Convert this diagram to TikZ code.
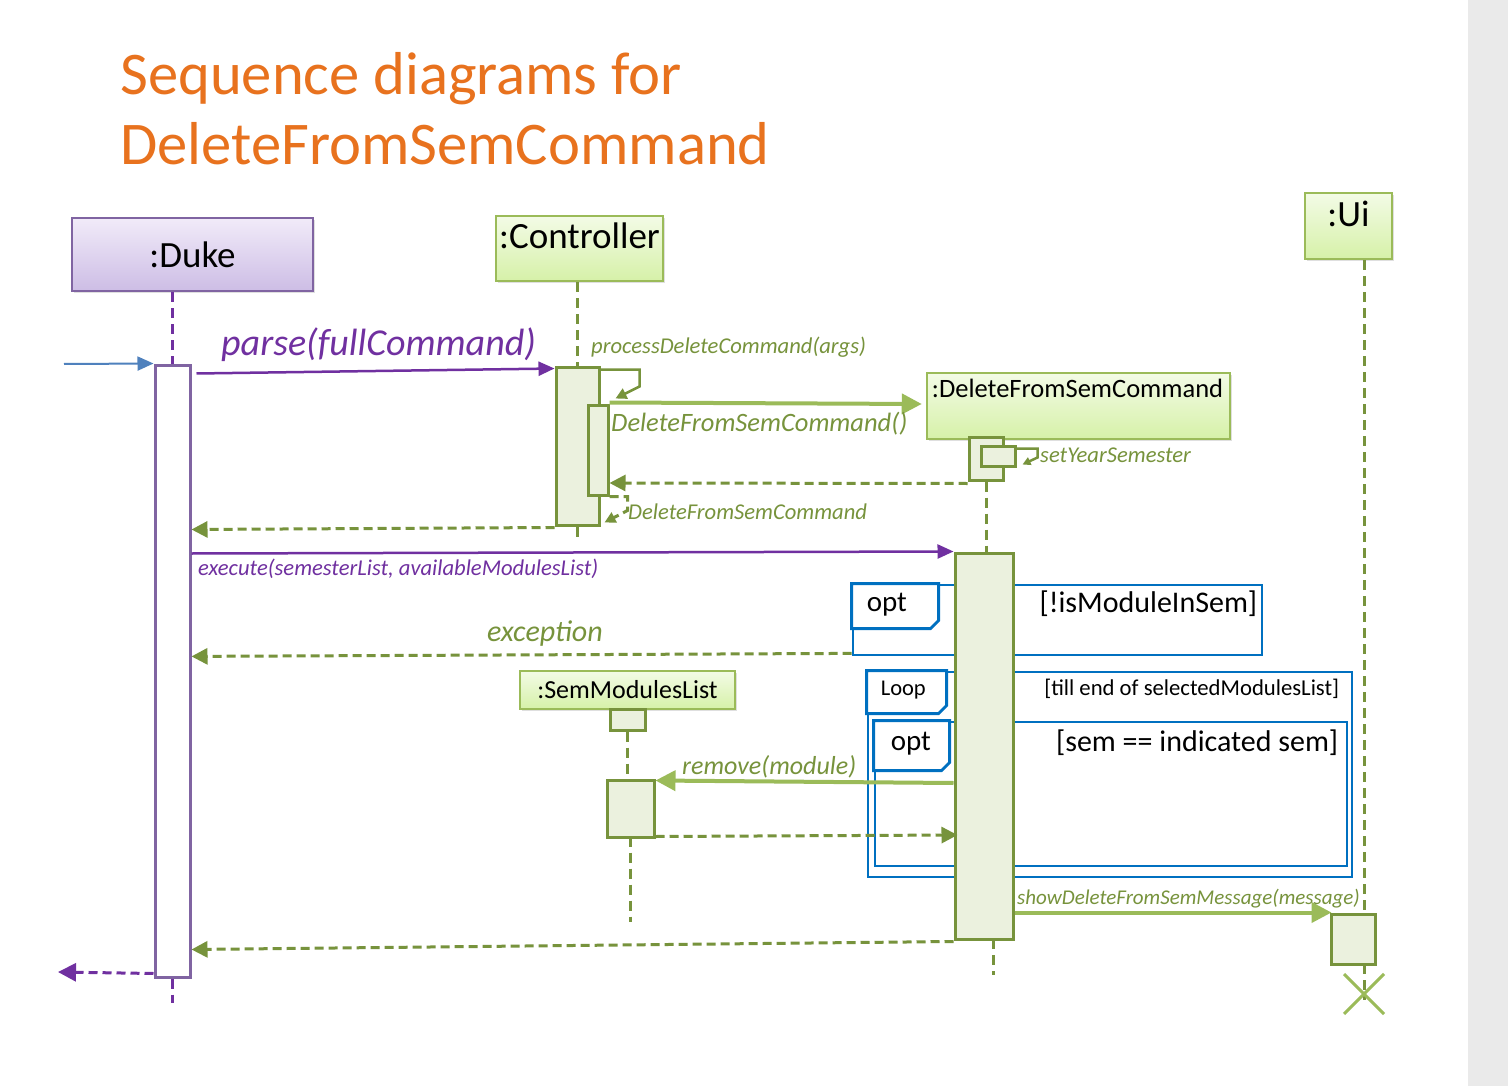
\documentclass[tikz,border=0pt]{standalone}
\usepackage{fontspec}
\setmainfont{Carlito}
\usetikzlibrary{arrows.meta,positioning,shadows}

\definecolor{titleorange}{RGB}{232,114,30}
\definecolor{dukeline}{RGB}{128,100,162}
\definecolor{dukepurple}{RGB}{112,48,160}
\definecolor{olive}{RGB}{119,147,60}
\definecolor{lightolive}{RGB}{155,187,89}
\definecolor{actfill}{RGB}{235,241,222}
\definecolor{hdrtop}{RGB}{243,251,230}
\definecolor{hdrbottom}{RGB}{214,241,168}
\definecolor{duketop}{RGB}{241,235,249}
\definecolor{dukebottom}{RGB}{205,189,229}
\definecolor{fragblue}{RGB}{0,112,192}
\definecolor{inblue}{RGB}{79,129,189}
\definecolor{sidegray}{RGB}{234,234,234}

\tikzset{
  hdr/.style={draw=lightolive, line width=2.5, top color=hdrtop, bottom color=hdrbottom,
    drop shadow={shadow xshift=2pt, shadow yshift=-2pt, opacity=0.25}, inner sep=0,
    font=\fontsize{37}{40}\selectfont},
  act/.style={draw=olive, fill=actfill, line width=3, inner sep=0},
  lifeline/.style={draw=olive, line width=3, dash pattern=on 10pt off 6pt},
  call/.style={draw=lightolive, line width=4, -{Triangle[length=20pt,width=20pt]}},
  selfcall/.style={draw=olive, line width=2.5, -{Triangle[length=11pt,width=11pt]}},
  reply/.style={draw=olive, line width=3, dash pattern=on 9pt off 5pt, -{Triangle[length=16pt,width=16pt]}},
  lbl/.style={font=\fontsize{#1}{#1}\selectfont\itshape, text=olive, inner sep=0, anchor=west},
  frag/.style={draw=fragblue, line width=2.8, inner sep=0},
  fragtag/.style={draw=fragblue, line width=2.8, fill=white},
  guard/.style={font=\fontsize{#1}{#1}\selectfont, inner sep=0, anchor=east},
}

\begin{document}
\begin{tikzpicture}[x=1pt, y=-1pt]
  \useasboundingbox (0,0) rectangle (1508,1086);
  \fill[white] (0,0) rectangle (1468,1086);
  \fill[sidegray] (1468,0) rectangle (1508,1086);

  % title
  \node[font=\fontsize{60.6}{72}\selectfont, text=titleorange, inner sep=0, anchor=base west] (title) at (120,95) {Sequence diagrams for};
  \node[font=\fontsize{60.6}{72}\selectfont, text=titleorange, inner sep=0, anchor=base west] (title2) at (120,165) {DeleteFromSemCommand};

  % fragments
  \node[frag, minimum width=409, minimum height=70] (opt1) at (1057.5,620) {};
  \node[frag, minimum width=484, minimum height=205] (loop) at (1110,774.5) {};
  \node[frag, minimum width=472, minimum height=144] (opt2) at (1111,794) {};
  \draw[fragtag] (opt1.north west) -- ++(87,0) -- ++(0,37) -- ++(-8,8) -- ++(-79,0) -- cycle;
  \draw[fragtag] (loop.north west) -- ++(80,0) -- ++(0,35) -- ++(-8,8) -- ++(-72,0) -- cycle;
  \draw[fragtag] (opt2.north west) -- ++(76,0) -- ++(0,42) -- ++(-8,8) -- ++(-68,0) -- cycle;
  \node[guard=29, anchor=west] (opt1name) at ([shift={(15,21)}]opt1.north west) {opt};
  \node[guard=30] (opt1cond) at ([shift={(-6,20)}]opt1.north east) {[!isModuleInSem]};
  \node[guard=22.5, anchor=west] (loopname) at ([shift={(14,19)}]loop.north west) {Loop};
  \node[guard=22.7] (loopcond) at ([shift={(-14,18)}]loop.north east) {[till end of selectedModulesList]};
  \node[guard=29, anchor=west] (opt2name) at ([shift={(17,23)}]opt2.north west) {opt};
  \node[guard=30] (opt2cond) at ([shift={(-10,22)}]opt2.north east) {[sem == indicated sem]};

  % objects
  \node[hdr, draw=dukeline, top color=duketop, bottom color=dukebottom, minimum width=241, minimum height=73] (duke) at (192.5,254.5) {:Duke};
  \node[hdr, minimum width=167, minimum height=65,
    label={[anchor=north, inner sep=0, yshift=-8pt, font=\fontsize{37}{40}\selectfont]north:{:Controller}}] (ctrl) at (579.5,248.5) {};
  \node[hdr, minimum width=87, minimum height=66,
    label={[anchor=north, inner sep=0, yshift=-9pt, font=\fontsize{37}{40}\selectfont]north:{:Ui}}] (ui) at (1348.5,226) {};
  \node[hdr, minimum width=303, minimum height=66,
    label={[anchor=north west, inner sep=0, xshift=6pt, yshift=-7pt, font=\fontsize{26.5}{30}\selectfont]north west:{:DeleteFromSemCommand}}] (dfsc) at (1078.5,406) {};
  \node[hdr, minimum width=215, minimum height=38, font=\fontsize{26}{30}\selectfont] (sml) at (627.5,690) {:SemModulesList};

  % activations
  \node[act, draw=dukeline, fill=white, minimum width=35, minimum height=612] (dukeact) at (172.5,671) {};
  \node[act, minimum width=43, minimum height=158] (ctrlact) at (577.5,446) {};
  \node[act, minimum width=20, minimum height=90] (ctrlnest) at (598,450) {};
  \node[act, minimum width=34, minimum height=43] (dfscact1) at (986,458.5) {};
  \node[act, minimum width=34, minimum height=20] (dfscnest) at (998,456) {};
  \node[act, minimum width=35, minimum height=21] (smlhead) at (627.5,719.5) {};
  \coordinate (uidie) at (1364,994);

  % lifelines
  \draw[lifeline, draw=dukepurple] (dukeact.north |- duke.south) -- (dukeact.north);
  \draw[lifeline, draw=dukepurple] (dukeact.south) -- ++(0,24);
  \draw[lifeline] (ctrlact.north |- ctrl.south) -- (ctrlact.north);
  \draw[lifeline] (ctrlact.south) -- ++(0,10);
  \draw[lifeline] (uidie |- ui.south) -- ([shift={(0,6)}]uidie);
  \draw[lifeline] (smlhead.south) -- ++(0,50);
  \draw[lifeline] ([shift={(3,57)}]smlhead.south) -- ++(0,133);
  \draw[lifeline] (dfscact1.south) -- ++(0,73);
  \draw[lifeline] (993,939) -- (993,975);

  \node[act, minimum width=58, minimum height=386] (dfscact) at (984,746) {};
  \node[act, minimum width=47, minimum height=57] (smlact) at (630.5,808.5) {};
  \node[act, minimum width=44, minimum height=50] (uiact) at (1353,939) {};

  % messages
  \coordinate (entry) at (64,364);
  \coordinate (exit) at (58,972);
  \draw[line width=2, inblue, -{Triangle[length=16pt,width=14pt]}] (entry) -- (dukeact.north west);
  \draw[line width=2.5, dukepurple, -{Triangle[length=16pt,width=14pt]}] ([shift={(5,10)}]dukeact.north east) -- ([shift={(0,3)}]ctrlact.north west);
  \draw[selfcall] ([shift={(0,4)}]ctrlact.north east) -- ++(39,0) -- ++(0,17) -- ([shift={(6,-5)}]ctrlnest.north east);
  \draw[call] ([shift={(0,-1)}]ctrlnest.north east) -- ([shift={(-4,-2)}]dfsc.west);
  \draw[selfcall, -{Triangle[length=8pt,width=8pt]}] ([shift={(0,4)}]dfscnest.north east) -- ++(21,0) -- ++(0,9) -- ([shift={(6,-3)}]dfscnest.south east);
  \draw[reply] ([shift={(0,2)}]dfscact1.south west) -- ([shift={(0,33)}]ctrlnest.east);
  \draw[reply, -{Triangle[length=11pt,width=11pt]}] (ctrlnest.south east) -- ++(18,0) -- ++(0,14) -- ([shift={(4,-4)}]ctrlact.south east);
  \draw[reply] ([shift={(0,1)}]ctrlact.south west) -- ([shift={(0,3)}]dukeact.east |- ctrlact.south west);
  \draw[line width=2.5, dukepurple, -{Triangle[length=16pt,width=14pt]}] ([shift={(0,2)}]dukeact.east |- dfscact.north) -- (dfscact.north west);
  \draw[reply] ([shift={(0,-3)}]opt1.south west) -- (dukeact.east |- opt1.south west);
  \draw[call] ([shift={(0,37)}]dfscact.west) -- ([shift={(0,2)}]smlact.north east);
  \draw[reply] ([shift={(0,-2)}]smlact.south east) -- ([shift={(4,89)}]dfscact.west);
  \draw[call] (dfscact.east |- uiact.north) -- ([shift={(2,0)}]uiact.north west);
  \draw[reply] ([shift={(0,1)}]dfscact.south west) -- ([shift={(0,-29)}]dukeact.south east);
  \draw[line width=3, dukepurple, dash pattern=on 9pt off 5pt, -{Triangle[length=18pt,width=18pt]}] ([shift={(0,-5)}]dukeact.south west) -- (exit);
  \draw[lightolive, line width=3] ([shift={(-20,-20)}]uidie) -- ([shift={(20,20)}]uidie)
    ([shift={(20,-20)}]uidie) -- ([shift={(-20,20)}]uidie);

  % message labels
  \node[lbl=38, text=dukepurple] (parselbl) at (221,345) {parse(fullCommand)};
  \node[lbl=22.6] (processlbl) at (591,347) {processDeleteCommand(args)};
  \node[lbl=26.5] (createlbl) at (611,424) {DeleteFromSemCommand()};
  \node[lbl=22.6] (setlbl) at (1040,455) {setYearSemester};
  \node[lbl=22.6] (createdlbl) at (628,512) {DeleteFromSemCommand};
  \node[lbl=22.6, text=dukepurple] (executelbl) at (198,569) {execute(semesterList, availableModulesList)};
  \node[lbl=30] (exceptionlbl) at (487,634) {exception};
  \node[lbl=26, text=olive] (removelbl) at (682,767) {remove(module)};
  \node[lbl=21] (showlbl) at (1017,899) {showDeleteFromSemMessage(message)};
\end{tikzpicture}
\end{document}
